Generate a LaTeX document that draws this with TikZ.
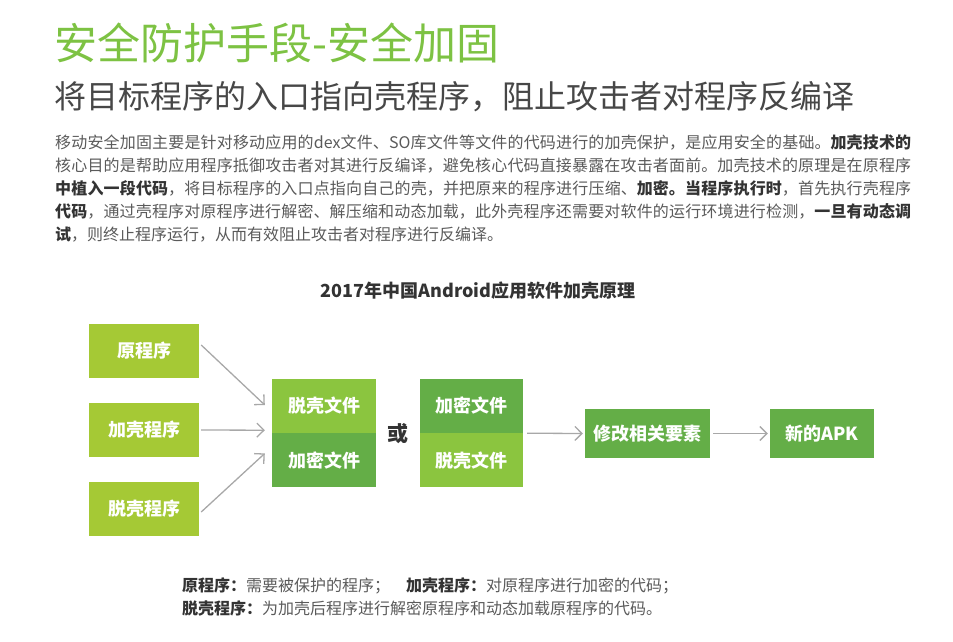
\documentclass[tikz,border=0pt]{standalone}
\usepackage{fontspec}
\setmainfont{Noto Sans CJK SC}
\usepackage{xcolor}
\usepackage{tikz}
\usetikzlibrary{positioning,arrows.meta}
\XeTeXlinebreaklocale "zh"
\XeTeXlinebreakskip=0pt plus 1pt minus 0.3pt

\definecolor{titlegreen}{HTML}{7DC243}
\definecolor{limegreen}{HTML}{A5C935}
\definecolor{midgreen}{HTML}{8BC53F}
\definecolor{darkgreen}{HTML}{64AE47}
\definecolor{bodygray}{HTML}{5A5A5A}
\definecolor{boldgray}{HTML}{333333}
\definecolor{arrowgray}{HTML}{A8A8A8}

\newcommand{\hl}[1]{{\bfseries\color{boldgray}#1}}

\tikzset{
    boxtext/.style={text=white, font=\bfseries\fontsize{18}{18}\selectfont, inner sep=0pt},
    srcbox/.style={boxtext, fill=limegreen, minimum width=110pt, minimum height=54pt},
    filebox/.style={boxtext, minimum width=104pt, minimum height=54pt},
    stepbox/.style={boxtext, fill=darkgreen, minimum height=49pt},
    flow/.style={arrowgray, line width=1.3pt, -{Straight Barb[length=7pt,width=14pt,line width=1.3pt]}}
}

\begin{document}
\begin{tikzpicture}[x=1pt, y=-1pt]
    \useasboundingbox (0,0) rectangle (953,641);

    % Headings
    \node[anchor=base west, inner sep=0pt, text=titlegreen, font=\fontsize{43}{43}\selectfont] (title) at (54,59) {安全防护手段-安全加固};
    \node[anchor=base west, inner sep=0pt, text=boldgray!90, font=\fontsize{32}{32}\selectfont] (subtitle) at (54,108) {将目标程序的入口指向壳程序，阻止攻击者对程序反编译};

    \node[anchor=north west, inner sep=0pt, text width=856pt, align=justify, text=bodygray, font=\fontsize{16}{22.8}\selectfont] (intro) at (55,135) {移动安全加固主要是针对移动应用的dex文件、SO库文件等文件的代码进行的加壳保护，是应用安全的基础。\hl{加壳技术的}\linebreak
    核心目的是帮助应用程序抵御攻击者对其进行反编译，避免核心代码直接暴露在攻击者面前。加壳技术的原理是在原程序\linebreak
    \hl{中植入一段代码}，将目标程序的入口点指向自己的壳，并把原来的程序进行压缩、\hl{加密。当程序执行时}，首先执行壳程序\linebreak
    \hl{代码}，通过壳程序对原程序进行解密、解压缩和动态加载，此外壳程序还需要对软件的运行环境进行检测，\hl{一旦有动态调}\linebreak
    \hl{试}，则终止程序运行，从而有效阻止攻击者对程序进行反编译。};

    \node[inner sep=0pt, text=boldgray, font=\bfseries\fontsize{18}{18}\selectfont] (chart) at (478,291) {2017年中国Android应用软件加壳原理};

    % Inputs
    \node[srcbox] (yuan) at (144,351) {原程序};
    \node[srcbox] (jiake) at (144,430) {加壳程序};
    \node[srcbox] (tuoke) at (144,509) {脱壳程序};

    % File stacks
    \node[filebox, fill=midgreen] (tuoA) at (324,406) {脱壳文件};
    \node[filebox, fill=darkgreen, below=0pt of tuoA] (miA) {加密文件};
    \node[inner sep=0pt, text=boldgray, font=\bfseries\fontsize{21}{21}\selectfont] (huo) at (398,434) {或};
    \node[filebox, fill=darkgreen, minimum width=103pt] (miB) at (471.5,406) {加密文件};
    \node[filebox, fill=midgreen, minimum width=103pt, below=0pt of miB] (tuoB) {脱壳文件};

    % Output steps
    \node[stepbox, minimum width=125pt] (modify) at (647.5,433.5) {修改相关要素};
    \node[stepbox, minimum width=104pt] (apk) at (822,433.5) {新的APK};

    \draw[flow] ([xshift=2pt,yshift=6pt]yuan.east) -- ([xshift=-7pt,yshift=1pt]tuoA.west);
    \draw[flow] ([xshift=2pt]jiake.east) -- ([xshift=-7pt,yshift=3pt]tuoA.south west);
    \draw[flow] ([xshift=2pt,yshift=-3pt]tuoke.east) -- ([xshift=-7pt,yshift=7pt]miA.west);
    \draw[flow] ([xshift=4pt]miB.south east) -- ([xshift=-2pt]modify.west);
    \draw[flow] ([xshift=3pt]modify.east) -- ([xshift=-2pt]apk.west);

    % Legend
    \node[anchor=base west, inner sep=0pt, text=bodygray, font=\fontsize{16}{23}\selectfont, align=left] (legend) at (182,614) {\hl{原程序：}需要被保护的程序；　\hl{加壳程序：}对原程序进行加密的代码；\\
    \hl{脱壳程序：}为加壳后程序进行解密原程序和动态加载原程序的代码。};
\end{tikzpicture}
\end{document}
